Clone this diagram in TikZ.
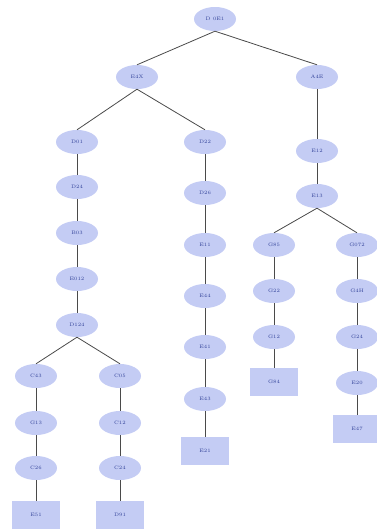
\documentclass[tikz,border=0pt]{standalone}
\usetikzlibrary{shapes.geometric}
\definecolor{nodefill}{HTML}{C4CCF4}
\definecolor{nodetext}{HTML}{34449A}
\definecolor{edgecol}{HTML}{4A4A4A}
\tikzset{
  base/.style={fill=nodefill, draw=none, text=nodetext, font=\fontsize{5}{6}\selectfont, inner sep=0pt},
  el/.style={base, ellipse, minimum width=42pt, minimum height=24pt},
  leaf/.style={base, rectangle, minimum width=48pt, minimum height=28pt},
  edge/.style={draw=edgecol, line width=0.8pt}
}
\begin{document}
\begin{tikzpicture}[x=1pt,y=-1pt]
\useasboundingbox (0,0) rectangle (376,530);
% top
\node[el] (r) at (215,19) {D 0E1};
\node[el] (a) at (137,77) {E4X};
\node[el] (b) at (317,77) {A4E};
% left chain
\node[el] (a1) at (77,142) {D01};
\node[el] (a2) at (77,187) {D24};
\node[el] (a3) at (77,233) {B03};
\node[el] (a4) at (77,279) {E012};
\node[el] (a5) at (77,325) {D124};
\node[el] (c1) at (36,376) {C43};
\node[el] (c2) at (36,423) {G13};
\node[el] (c3) at (36,468) {C26};
\node[leaf] (c4) at (36,515) {E51};
\node[el] (d1) at (120,376) {C05};
\node[el] (d2) at (120,423) {C12};
\node[el] (d3) at (120,468) {C24};
\node[leaf] (d4) at (120,515) {D91};
% middle chain
\node[el] (m1) at (205,142) {D22};
\node[el] (m2) at (205,193) {D26};
\node[el] (m3) at (205,245) {E11};
\node[el] (m4) at (205,296) {E44};
\node[el] (m5) at (205,347) {E41};
\node[el] (m6) at (205,399) {E43};
\node[leaf] (m7) at (205,451) {E21};
% right
\node[el] (b1) at (317,151) {E12};
\node[el] (b2) at (317,196) {E13};
\node[el] (g1) at (274,245) {G85};
\node[el] (g2) at (274,291) {G22};
\node[el] (g3) at (274,337) {G12};
\node[leaf] (g4) at (274,382) {G84};
\node[el] (h1) at (357,245) {G072};
\node[el] (h2) at (357,291) {G4H};
\node[el] (h3) at (357,337) {G24};
\node[el] (h4) at (357,383) {E20};
\node[leaf] (h5) at (357,429) {E47};
% edges
\foreach \p/\c in {r/a, r/b, a/a1, a/m1, a1/a2, a2/a3, a3/a4, a4/a5, a5/c1, a5/d1,
  c1/c2, c2/c3, c3/c4, d1/d2, d2/d3, d3/d4, m1/m2, m2/m3, m3/m4, m4/m5, m5/m6, m6/m7,
  b/b1, b1/b2, b2/g1, b2/h1, g1/g2, g2/g3, g3/g4, h1/h2, h2/h3, h3/h4, h4/h5}
  \draw[edge] (\p.south) -- (\c.north);
\end{tikzpicture}
\end{document}
